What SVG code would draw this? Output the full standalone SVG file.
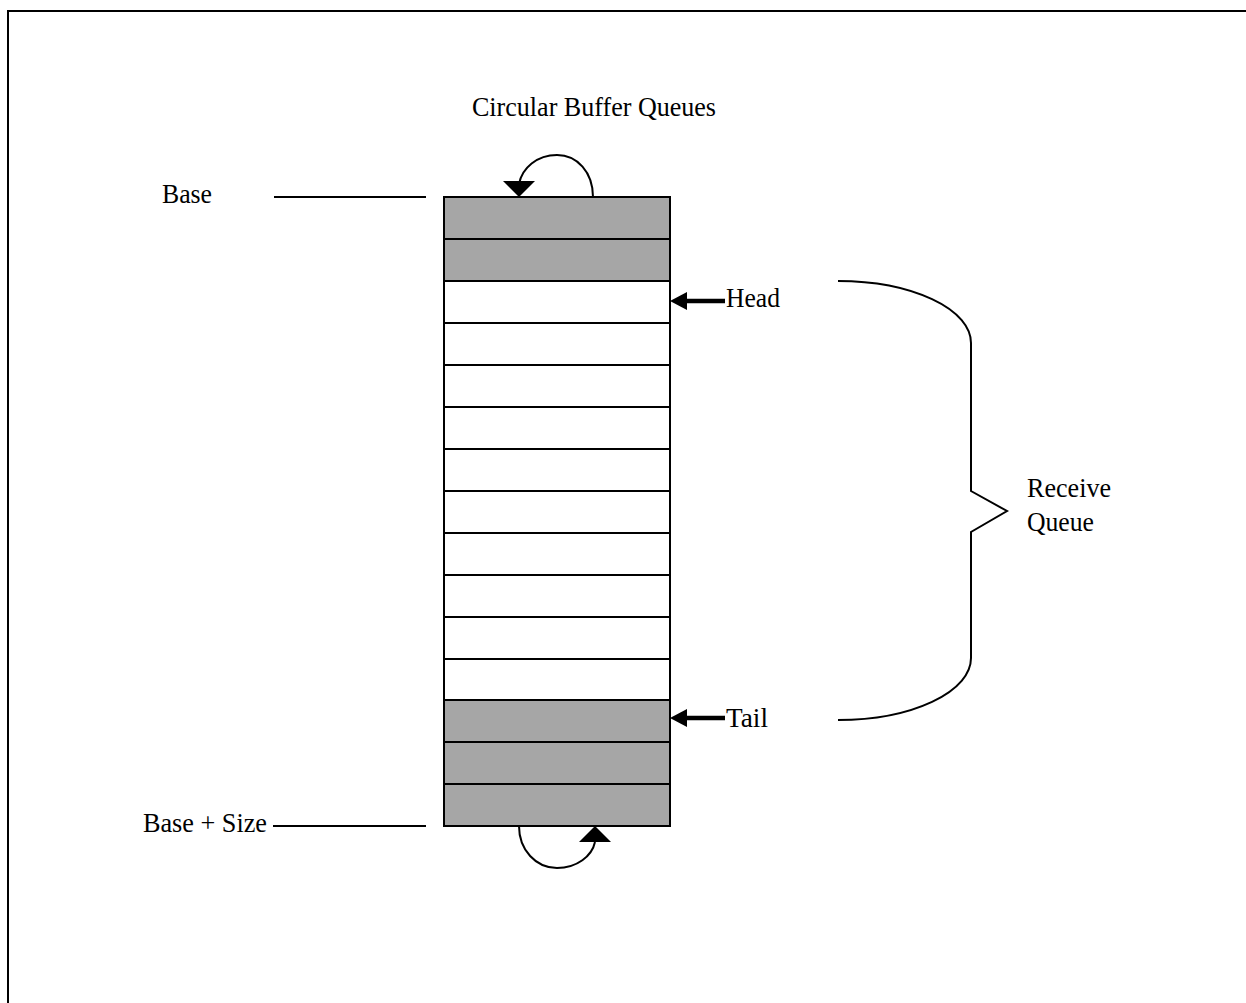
<svg xmlns="http://www.w3.org/2000/svg" width="1246" height="1003" viewBox="0 0 1246 1003">
<style>
text{font-family:"Liberation Serif","Times New Roman",serif;font-size:28px;fill:#000}
.ln{stroke:#000;stroke-width:2;fill:none}
.gray{fill:#a6a6a6;stroke:#000;stroke-width:2}
.white{fill:#fff;stroke:#000;stroke-width:2}
.ah{fill:#000}
</style>
<rect x="0" y="0" width="1246" height="1003" fill="#fff"/>
<g id="frame">
<path d="M8,1003 V11 H1246" class="ln" stroke-width="3"/>
</g>
<g id="title"><text x="472" y="116" textLength="244" lengthAdjust="spacingAndGlyphs">Circular Buffer Queues</text></g>
<g id="buffer">
<rect x="444" y="197" width="226" height="42" class="gray"/>
<rect x="444" y="239" width="226" height="42" class="gray"/>
<rect x="444" y="281" width="226" height="42" class="white"/>
<rect x="444" y="323" width="226" height="42" class="white"/>
<rect x="444" y="365" width="226" height="42" class="white"/>
<rect x="444" y="407" width="226" height="42" class="white"/>
<rect x="444" y="449" width="226" height="42" class="white"/>
<rect x="444" y="491" width="226" height="42" class="white"/>
<rect x="444" y="533" width="226" height="42" class="white"/>
<rect x="444" y="575" width="226" height="42" class="white"/>
<rect x="444" y="617" width="226" height="42" class="white"/>
<rect x="444" y="659" width="226" height="41" class="white"/>
<rect x="444" y="700" width="226" height="42" class="gray"/>
<rect x="444" y="742" width="226" height="42" class="gray"/>
<rect x="444" y="784" width="226" height="42" class="gray"/>
</g>
<g id="base"><text x="162" y="203" textLength="50" lengthAdjust="spacingAndGlyphs">Base</text></g>
<g id="base-size"><text x="143" y="832" textLength="124" lengthAdjust="spacingAndGlyphs">Base + Size</text></g>
<g id="head"><text x="726" y="307" textLength="54" lengthAdjust="spacingAndGlyphs">Head</text></g>
<g id="tail"><text x="726" y="727" textLength="42" lengthAdjust="spacingAndGlyphs">Tail</text></g>
<g id="receive-queue"><text x="1027" y="497" textLength="84" lengthAdjust="spacingAndGlyphs">Receive</text><text x="1027" y="531" textLength="67" lengthAdjust="spacingAndGlyphs">Queue</text></g>
<g id="connectors">
<line x1="274" y1="197" x2="426" y2="197" class="ln"/>
<line x1="273" y1="826" x2="426" y2="826" class="ln"/>
<path d="M593,197 C593,172 577,155 557,155 C537,155 522,168 519,184" class="ln"/>
<polygon points="503,181 535,181 519,197" class="ah"/>
<path d="M519,826 C519,850 536,868 557,868 C577,868 592,856 595,842" class="ln"/>
<polygon points="579,842 611,842 595,826" class="ah"/>
<line x1="686" y1="301" x2="725" y2="301" stroke="#000" stroke-width="4.5"/>
<polygon points="670,301 687,292 687,310" class="ah"/>
<line x1="686" y1="718" x2="725" y2="718" stroke="#000" stroke-width="4.5"/>
<polygon points="670,718 687,709 687,727" class="ah"/>
<path d="M838,281 A133,62 0 0 1 971,343 V491 L1007,511 L971,532 V658 A133,62 0 0 1 838,720" class="ln" stroke-width="2.5"/>
</g>
</svg>
